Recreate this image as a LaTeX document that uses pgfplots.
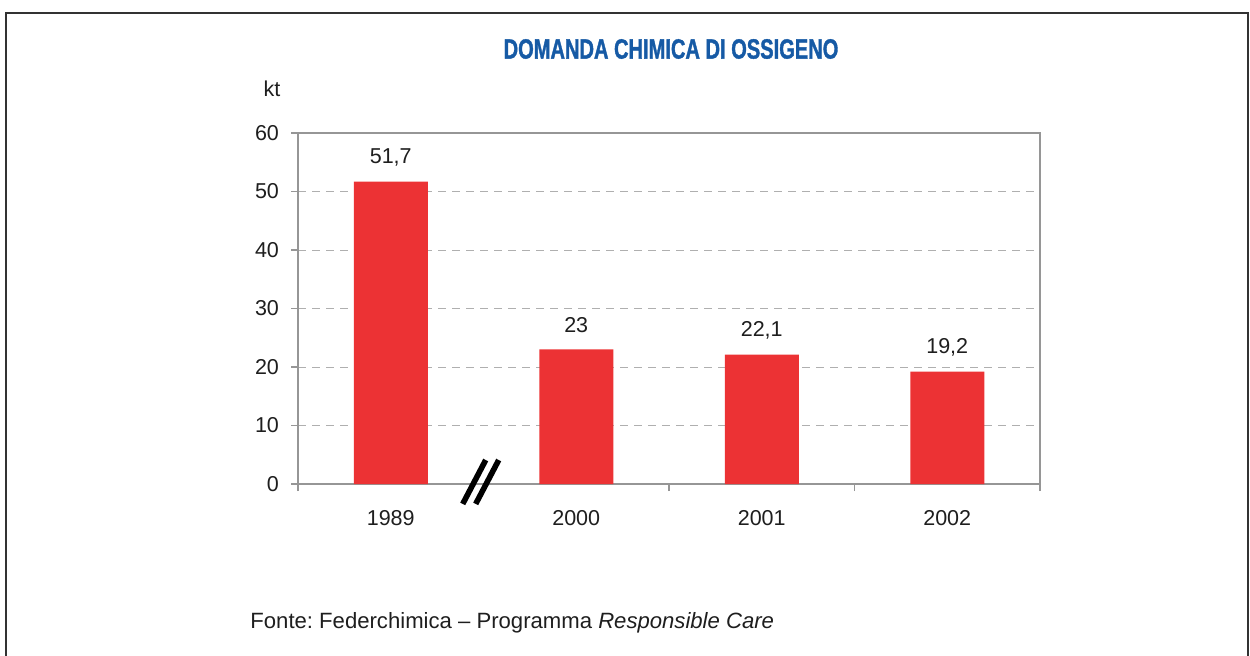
\documentclass[border=0pt]{standalone}
\usepackage{fontspec}
\setmainfont{Liberation Sans}
\newfontfamily\titlefont{Liberation Sans}[FakeStretch=0.72,FakeBold=1.2]
\usepackage{pgfplots}
\pgfplotsset{compat=1.18}
\definecolor{barred}{RGB}{236,50,52}
\definecolor{titleblue}{RGB}{22,90,165}
\definecolor{axgray}{RGB}{150,150,150}
\definecolor{gridgray}{RGB}{175,175,175}
\frenchspacing
\begin{document}
\begin{tikzpicture}
\path[use as bounding box] (0,0) rectangle (625bp,-328bp);
\draw[line width=0.75bp, color={rgb,255:red,50;green,50;blue,50}] (3bp,-328bp) -- (3bp,-6.5bp) -- (624bp,-6.5bp) -- (624bp,-328bp);
\node[font=\titlefont\bfseries\fontsize{14}{16}\selectfont, text=titleblue] at (335.5bp,-24.5bp) {DOMANDA CHIMICA DI OSSIGENO};
\node[font=\fontsize{10.8}{12}\selectfont, text={rgb,255:red,30;green,30;blue,30}] at (136bp,-44.5bp) {kt};
\node[anchor=west, inner sep=0pt, font=\fontsize{11.1}{13}\selectfont, text={rgb,255:red,30;green,30;blue,30}] at (125bp,-311.5bp) {Fonte: Federchimica -- Programma \textit{Responsible Care}};
\begin{axis}[
  at={(149bp,-242bp)}, anchor=south west,
  scale only axis, width=371bp, height=175.5bp,
  xmin=-0.5, xmax=3.5, ymin=0, ymax=60,
  xtick={0,1,2,3}, xticklabels={1989,2000,2001,2002},
  minor xtick={-0.5,1.5,2.5,3.5},
  ytick={0,10,20,30,40,50,60},
  tick align=outside,
  major tick length=3.5bp, minor tick length=3.5bp,
  x tick style={draw=none},
  minor x tick style={draw=axgray, line width=0.6bp},
  y tick style={draw=axgray, line width=0.6bp},
  xtick pos=bottom, ytick pos=left,
  axis line style={draw=axgray, line width=0.6bp},
  ymajorgrids, grid style={draw=gridgray, dash pattern=on 4bp off 3bp, line width=0.5bp},
  ticklabel style={font=\fontsize{10.8}{12}\selectfont, text={rgb,255:red,30;green,30;blue,30}},
  /pgf/number format/assume math mode=true,
  xticklabel style={yshift=-6bp},
  yticklabel style={xshift=-2.5bp},
  clip=false,
]
\addplot[ybar, bar width=37bp, fill=barred, draw=none,
  nodes near coords={\pgfmathprintnumber[use comma, assume math mode=true]{\pgfplotspointmeta}},
  every node near coord/.append style={font=\fontsize{10.8}{12}\selectfont, text={rgb,255:red,30;green,30;blue,30}, anchor=center, yshift=12bp},
  point meta=y]
  coordinates {(0,51.7) (1,23) (2,22.1) (3,19.2)};
\draw[line width=2.8bp, black] (axis cs:0.388,-3.4) -- (axis cs:0.512,4.1);
\draw[line width=2.8bp, black] (axis cs:0.458,-3.4) -- (axis cs:0.582,4.1);
\end{axis}
\end{tikzpicture}
\end{document}
